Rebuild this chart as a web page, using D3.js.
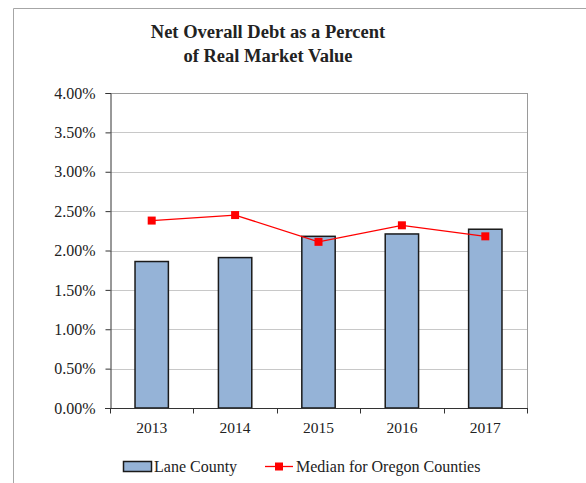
<!doctype html>
<html lang="en">
<head>
<meta charset="utf-8">
<title>Net Overall Debt as a Percent of Real Market Value</title>
<style>
  body { margin: 0; background: #fff; }
  text { font-family: "Liberation Serif", "Times New Roman", serif; fill: #222; }
</style>
</head>
<body>
<svg id="chart"></svg>
<script src="https://d3js.org/d3.v7.min.js"></script>
<script>
var years = ["2013", "2014", "2015", "2016", "2017"];
var laneCounty = [1.86, 1.91, 2.18, 2.21, 2.27];
var oregonMedian = [2.38, 2.45, 2.11, 2.32, 2.18];
var yTicks = [0, 0.5, 1, 1.5, 2, 2.5, 3, 3.5, 4];
var titleLines = ["Net Overall Debt as a Percent", "of Real Market Value"];
var seriesNames = ["Lane County", "Median for Oregon Counties"];

var width = 586, height = 483;
var svg = d3.select("#chart").attr("width", width).attr("height", height);

// outer frame (right side runs off the picture)
svg.append("path")
  .attr("d", "M13.5," + height + "V8.5H" + width)
  .style("fill", "none").style("stroke", "#a6a6a6");

var plotLeft = 110, plotRight = 527, plotTop = 93, plotBottom = 408;

var x = d3.scaleBand().domain(years).range([plotLeft, plotRight]);
var y = d3.scaleLinear().domain([0, 4]).range([plotBottom, plotTop]);

// title
svg.append("text")
  .attr("x", 268).attr("y", 38)
  .attr("text-anchor", "middle")
  .style("font-size", "18.5px").style("font-weight", "bold")
  .selectAll("tspan").data(titleLines).enter().append("tspan")
  .attr("x", 268).attr("dy", function(d, i) { return i ? 24 : 0; })
  .text(function(d) { return d; });

// gridlines
svg.append("g").selectAll("line").data(yTicks.slice(1)).enter().append("line")
  .attr("x1", plotLeft).attr("x2", plotRight)
  .attr("y1", function(d) { return Math.round(y(d)) + 0.5; })
  .attr("y2", function(d) { return Math.round(y(d)) + 0.5; })
  .style("stroke", function(d) { return d === 4 ? "#9a9a9a" : "#c8c8c8"; });

// plot border right
svg.append("line")
  .attr("x1", plotRight + 0.5).attr("x2", plotRight + 0.5).attr("y1", plotTop).attr("y2", plotBottom)
  .style("stroke", "#9a9a9a");

// bars
var barW = x.bandwidth() * 0.4;
svg.append("g").selectAll("rect").data(laneCounty).enter().append("rect")
  .attr("x", function(d, i) { return x(years[i]) + (x.bandwidth() - barW) / 2; })
  .attr("y", function(d) { return y(d); })
  .attr("width", barW)
  .attr("height", function(d) { return plotBottom - y(d); })
  .style("fill", "#95b3d7").style("stroke", "#1a1a1a").style("stroke-width", 1.5);

// y axis
var yAxis = d3.axisLeft(y).tickValues(yTicks).tickSize(5)
  .tickFormat(function(d) { return d.toFixed(2) + "%"; });
var gy = svg.append("g").attr("transform", "translate(" + (plotLeft + 0.5) + ",0)").call(yAxis);
gy.selectAll("text").style("font-size", "16px").style("font-family", "Liberation Serif").attr("x", -15).attr("fill", "#222");
gy.selectAll("line, path").style("stroke", "#333");

// x axis with ticks at category boundaries
var gx = svg.append("g").attr("transform", "translate(0," + (plotBottom + 0.5) + ")");
gx.append("line").attr("x1", plotLeft - 5).attr("x2", plotRight + 1).style("stroke", "#333");
gx.selectAll("line.tk").data(years.concat(["end"])).enter().append("line")
  .attr("class", "tk")
  .attr("x1", function(d, i) { return Math.round(i < years.length ? x(d) : plotRight) + 0.5; })
  .attr("x2", function(d, i) { return Math.round(i < years.length ? x(d) : plotRight) + 0.5; })
  .attr("y1", 0).attr("y2", 5).style("stroke", "#333");
gx.selectAll("text").data(years).enter().append("text")
  .attr("x", function(d) { return x(d) + x.bandwidth() / 2; })
  .attr("y", 24).attr("text-anchor", "middle").style("font-size", "15.5px")
  .text(function(d) { return d; });

// median line
var line = d3.line()
  .x(function(d, i) { return x(years[i]) + x.bandwidth() / 2; })
  .y(function(d) { return y(d); });
svg.append("path").datum(oregonMedian).attr("d", line)
  .style("fill", "none").style("stroke", "#ff0000").style("stroke-width", 1.3);
svg.append("g").selectAll("rect").data(oregonMedian).enter().append("rect")
  .attr("x", function(d, i) { return x(years[i]) + x.bandwidth() / 2 - 4; })
  .attr("y", function(d) { return y(d) - 4; })
  .attr("width", 8).attr("height", 8)
  .style("fill", "#ff0000");

// legend
var lg = svg.append("g");
lg.append("rect").attr("x", 123.5).attr("y", 461.5).attr("width", 28).attr("height", 10)
  .style("fill", "#95b3d7").style("stroke", "#1a1a1a").style("stroke-width", 1.5);
lg.append("text").attr("x", 154).attr("y", 472).style("font-size", "16px").text(seriesNames[0]);
lg.append("line").attr("x1", 265).attr("x2", 293).attr("y1", 466.5).attr("y2", 466.5)
  .style("stroke", "#ff0000").style("stroke-width", 1.3);
lg.append("rect").attr("x", 275).attr("y", 462.5).attr("width", 8).attr("height", 8).style("fill", "#ff0000");
lg.append("text").attr("x", 296).attr("y", 472).style("font-size", "16px").text(seriesNames[1]);
</script>
</body>
</html>
